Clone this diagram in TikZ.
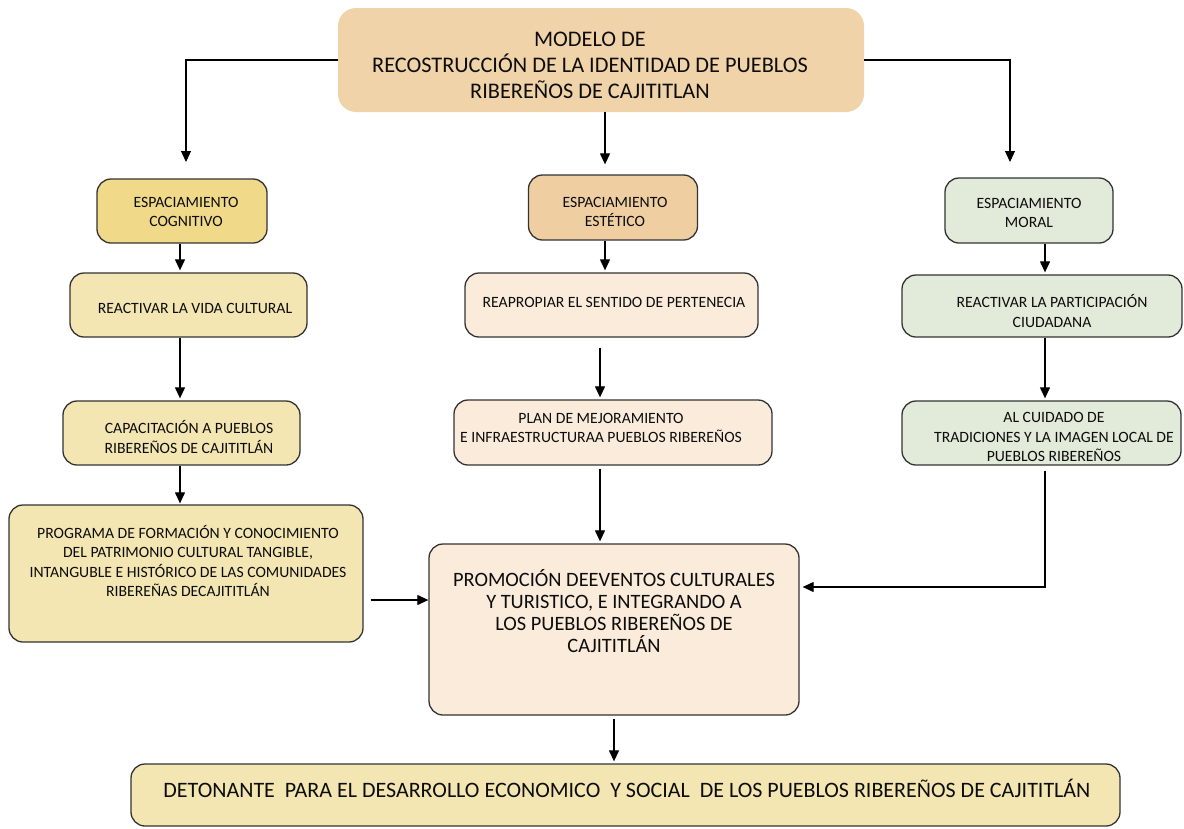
\documentclass[tikz,border=0pt]{standalone}
\usepackage{fontspec}
\setmainfont{Carlito}
\usetikzlibrary{arrows.meta}
\definecolor{ctop}{HTML}{F0D3A9}
\definecolor{cgold}{HTML}{F1D98A}
\definecolor{ctan}{HTML}{EFCFA1}
\definecolor{cgreen}{HTML}{E2EAD9}
\definecolor{cyel}{HTML}{F3E6B2}
\definecolor{ccream}{HTML}{FAEBDB}
\definecolor{cline}{HTML}{333333}
\tikzset{
  box/.style={draw=cline, line width=1.3pt, rounded corners=14pt, inner sep=0pt},
  topbox/.style={rounded corners=18pt, inner sep=0pt},
  txt/.style={align=center, inner sep=0pt, text=black!95, font=\fontsize{15.7}{19.5}\selectfont},
  bigtxt/.style={align=center, inner sep=0pt, text=black!95, font=\fontsize{22.3}{26}\selectfont},
  midtxt/.style={align=center, inner sep=0pt, text=black!95, font=\fontsize{20.4}{22}\selectfont},
  dettxt/.style={align=center, inner sep=0pt, text=black!95, font=\fontsize{22}{24}\selectfont},
  arr/.style={draw=black, line width=1.2pt, -{Triangle[length=11pt,width=10pt]}},
}
\begin{document}
\begin{tikzpicture}[x=1pt,y=-1pt]
\useasboundingbox (0,0) rectangle (1184,828);
% column coordinates
\coordinate (c1) at (180,0);
\coordinate (c2) at (605,0);
\coordinate (c2b) at (600,0);
\coordinate (c3) at (1045,0);
\coordinate (c4) at (614,0);
\coordinate (cL) at (186,0);
\coordinate (cR) at (1010,0);
\coordinate (rowA) at (0,162);
\coordinate (rowP) at (0,600);
\coordinate (rowQ) at (0,587);

% boxes
\node[topbox, fill=ctop, minimum width=526pt, minimum height=104pt] (top) at (601,60) {};
\node[bigtxt] (topT) at (590,65) {MODELO DE\\RECOSTRUCCIÓN DE LA IDENTIDAD DE PUEBLOS\\RIBEREÑOS DE CAJITITLAN};

\node[box, fill=cgold, minimum width=170pt, minimum height=64pt] (cog) at (182,211) {};
\node[txt] (cogT) at (186,212) {ESPACIAMIENTO\\COGNITIVO};
\node[box, fill=ctan, minimum width=169pt, minimum height=65pt] (est) at (613,207.5) {};
\node[txt] (estT) at (615,212) {ESPACIAMIENTO\\ESTÉTICO};
\node[box, fill=cgreen, minimum width=168pt, minimum height=65pt] (mor) at (1029,210.5) {};
\node[txt] (morT) at (1029,213) {ESPACIAMIENTO\\MORAL};

\node[box, fill=cyel, minimum width=237pt, minimum height=64pt] (vida) at (188.5,305) {};
\node[txt] (vidaT) at (195,308) {REACTIVAR LA VIDA CULTURAL};
\node[box, fill=ccream, minimum width=293pt, minimum height=64pt] (reap) at (611.5,305) {};
\node[txt] (reapT) at (614,302) {REAPROPIAR EL SENTIDO DE PERTENECIA};
\node[box, fill=cgreen, minimum width=280pt, minimum height=62pt] (part) at (1042,306) {};
\node[txt] (partT) at (1052,311) {REACTIVAR LA PARTICIPACIÓN\\CIUDADANA};

\node[box, fill=cyel, minimum width=237pt, minimum height=64pt] (capa) at (181.5,433) {};
\node[txt] (capaT) at (189,437) {CAPACITACIÓN A PUEBLOS\\RIBEREÑOS DE CAJITITLÁN};
\node[box, fill=ccream, minimum width=318pt, minimum height=65pt] (plan) at (613,432.5) {};
\node[txt] (planT) at (601,428) {PLAN DE MEJORAMIENTO\\E INFRAESTRUCTURAA PUEBLOS RIBEREÑOS};
\node[box, fill=cgreen, minimum width=279pt, minimum height=64pt] (cuid) at (1041.5,433) {};
\node[txt] (cuidT) at (1054,437) {AL CUIDADO DE\\TRADICIONES Y LA IMAGEN LOCAL DE\\PUEBLOS RIBEREÑOS};

\node[box, fill=cyel, minimum width=354pt, minimum height=137pt] (prog) at (186,573.5) {};
\node[txt] (progT) at (188,561) {PROGRAMA DE FORMACIÓN Y CONOCIMIENTO\\DEL PATRIMONIO CULTURAL TANGIBLE,\\INTANGUBLE E HISTÓRICO DE LAS COMUNIDADES\\RIBEREÑAS DECAJITITLÁN};

\node[box, fill=ccream, minimum width=370pt, minimum height=171pt] (promo) at (614,629.5) {};
\node[midtxt] (promoT) at (614,611) {PROMOCIÓN DEEVENTOS CULTURALES\\Y TURISTICO, E INTEGRANDO A\\LOS PUEBLOS RIBEREÑOS DE\\CAJITITLÁN};

\node[box, fill=cyel, minimum width=989pt, minimum height=62pt] (det) at (625.5,795) {};
\node[dettxt] (detT) at (627,788) {DETONANTE\ \ PARA EL DESARROLLO ECONOMICO\ \ Y SOCIAL\ \ DE LOS PUEBLOS RIBEREÑOS DE CAJITITLÁN};

% connectors
\draw[arr] (top.west) -| (rowA -| cL);
\draw[arr] (top.east) -| (rowA -| cR);
\draw[arr] (top.south -| c2) -- ([yshift=10pt]est.north -| c2);

\draw[arr] (cog.south -| c1) -- ([yshift=2pt]vida.north -| c1);
\draw[arr] (vida.south -| c1) -- ([yshift=2pt]capa.north -| c1);
\draw[arr] (capa.south -| c1) -- ([yshift=1pt]prog.north -| c1);

\draw[arr] (est.south -| c2) -- ([yshift=2pt]reap.north -| c2);
\draw[arr, shorten <=10pt] (reap.south -| c2b) -- ([yshift=2pt]plan.north -| c2b);
\draw[arr, shorten <=3pt] (plan.south -| c2b) -- ([yshift=2pt]promo.north -| c2b);

\draw[arr] (mor.south -| c3) -- ([yshift=2pt]part.north -| c3);
\draw[arr] (part.south -| c3) -- ([yshift=2pt]cuid.north -| c3);
\draw[arr, shorten <=5pt] (cuid.south -| c3) |- ([xshift=3pt]rowQ -| promo.east);

\draw[arr, shorten <=7pt] (prog.east |- rowP) -- (promo.west |- rowP);
\draw[arr, shorten <=3pt] (promo.south -| c4) -- ([yshift=2pt]det.north -| c4);
\end{tikzpicture}
\end{document}
